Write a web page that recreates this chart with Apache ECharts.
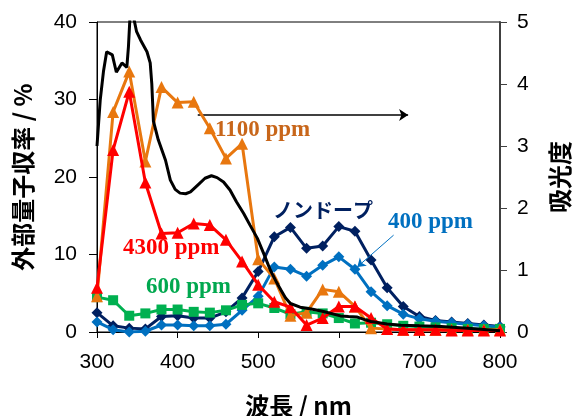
<!DOCTYPE html>
<html>
<head>
<meta charset="utf-8">
<script src="https://cdn.jsdelivr.net/npm/echarts@6/dist/echarts.min.js"></script>
<style>html,body{margin:0;padding:0;background:#fff;}#c{width:574px;height:416px;}</style>
</head>
<body>
<div id="c"></div>
<script>
const wavelengths = [300,320,340,360,380,400,420,440,460,480,500,520,540,560,580,600,620,640,660,680,700,720,740,760,780,800];
const undoped = [2.5,0.8,0.5,0.4,2.0,2.1,1.8,1.8,2.6,4.4,7.8,12.3,13.5,10.8,11.1,13.6,13.0,9.3,5.7,3.3,2.0,1.5,1.3,1.1,0.9,0.7];
const ppm400  = [1.3,0.3,0.0,0.1,0.9,0.9,0.8,0.8,1.0,2.8,4.6,8.4,8.1,7.2,8.6,9.7,8.1,5.2,3.4,2.3,1.7,1.4,1.2,1.0,0.8,0.6];
const ppm600  = [4.5,4.1,2.1,2.4,2.9,2.9,2.6,2.5,2.8,3.5,3.7,3.1,2.3,2.6,2.4,1.8,1.1,1.2,1.0,0.8,0.7,0.6,0.5,0.4,0.4,0.4];
const ppm1100 = [4.6,28.4,33.6,22.0,31.6,29.6,29.7,26.3,22.4,24.3,9.4,6.9,2.1,2.5,5.5,5.2,3.3,0.5,0.4,0.3,0.3,0.3,0.3,0.3,0.3,0.3];
const ppm4300 = [5.7,23.5,31.0,19.3,12.7,12.8,14.0,13.8,11.9,9.1,6.1,3.9,3.2,0.9,1.8,3.3,3.3,1.8,0.4,0.3,0.3,0.3,0.2,0.2,0.2,0.2];
const absWavelength = [300,304,308,312,319,324,331,337,339,341,345,349,354,362,366,368,370,376,385,391,397,403,410,416,425,434,442,449,457,465,473,482,490,499,507,515,522,528,534,540,552,566,581,602,612,623,632,640,660,677,700,727,760,800];
const absorbance = [3.0,3.74,4.2,4.52,4.47,4.19,4.34,4.27,4.6,5.1,5.1,4.85,4.71,4.52,4.34,4.0,3.4,3.1,2.77,2.45,2.3,2.24,2.23,2.26,2.37,2.48,2.52,2.49,2.42,2.29,2.1,1.91,1.72,1.51,1.26,1.0,0.82,0.68,0.55,0.46,0.40,0.37,0.33,0.26,0.25,0.24,0.2,0.17,0.13,0.11,0.1,0.09,0.06,0.02];
const xTicks = {min:300, max:800, interval:100};
const leftTicks = {min:0, max:40, interval:10};
const rightTicks = {min:0, max:5, interval:1};

const pair = (xs, ys) => xs.map((x, i) => [x, ys[i]]);
const chart = echarts.init(document.getElementById('c'), null, {renderer:'canvas'});
const tickFont = {fontFamily:'Liberation Sans, Arial, sans-serif', fontSize:21, color:'#000'};
const nameFont = {fontFamily:'Noto Sans CJK JP, Liberation Sans, sans-serif', fontSize:24, fontWeight:'bold', color:'#000'};
function mk(name, data, color, symbol, size, z) {
  return {name, type:'line', data:pair(wavelengths, data), yAxisIndex:0, symbol, symbolSize:size,
    lineStyle:{color, width:3}, itemStyle:{color}, z, animation:false};
}
const serif = 'bold 23px "Liberation Serif", "Times New Roman", serif';
chart.setOption({
  animation:false,
  grid:{left:97, right:74, top:22, bottom:84, show:true, borderColor:'#000', borderWidth:1,
        containLabel:false, outerBoundsMode:'none'},
  xAxis:{type:'value', min:xTicks.min, max:xTicks.max, interval:xTicks.interval,
    name:'波長 / nm', nameLocation:'middle', nameGap:62, nameTextStyle:nameFont,
    axisLine:{lineStyle:{color:'#000', width:1}}, axisTick:{show:true, length:6, lineStyle:{color:'#000'}},
    axisLabel:Object.assign({margin:20}, tickFont), splitLine:{show:false}},
  yAxis:[
    {type:'value', min:leftTicks.min, max:leftTicks.max, interval:leftTicks.interval, position:'left',
     name:'外部量子収率 / %', nameLocation:'middle', nameGap:62, nameRotate:90, nameTextStyle:nameFont,
     axisLine:{show:true, lineStyle:{color:'#000', width:1}}, axisTick:{show:true, length:8, lineStyle:{color:'#000'}},
     axisLabel:Object.assign({margin:20}, tickFont), splitLine:{show:false}},
    {type:'value', min:rightTicks.min, max:rightTicks.max, interval:rightTicks.interval, position:'right',
     name:'吸光度', nameLocation:'middle', nameGap:48, nameRotate:90, nameTextStyle:nameFont,
     axisLine:{show:true, lineStyle:{color:'#404040', width:2}}, axisTick:{show:true, length:7, lineStyle:{color:'#404040'}},
     axisLabel:Object.assign({margin:17}, tickFont), splitLine:{show:false}}
  ],
  series:[
    mk('ノンドープ', undoped, '#002060', 'diamond', 11, 2),
    Object.assign(mk('400 ppm', ppm400, '#0070C0', 'diamond', 11, 3), {
      markLine:{silent:true, symbol:['none','arrow'], symbolSize:8, label:{show:false},
        lineStyle:{color:'#0070C0', width:1, type:'solid'},
        data:[[{coord:[668,12.5]},{coord:[623,8.4]}]]}}),
    mk('600 ppm', ppm600, '#00B050', 'rect', 10, 4),
    Object.assign(mk('1100 ppm', ppm1100, '#E8770F', 'triangle', 12, 5), {
      markLine:{silent:true, symbol:['none','arrow'], symbolSize:9, label:{show:false},
        lineStyle:{color:'#000', width:1.5, type:'solid'},
        data:[[{coord:[425,28]},{coord:[686,28]}]]}}),
    mk('4300 ppm', ppm4300, '#FF0000', 'triangle', 12, 6),
    {name:'吸光度', type:'line', yAxisIndex:1, data:pair(absWavelength, absorbance), symbol:'none',
     lineStyle:{color:'#000', width:3}, z:7, clip:true, animation:false}
  ],
  graphic:[
    {type:'text', left:215, top:119, z:100, style:{text:'1100 ppm', font:serif, fill:'#C8661A'}},
    {type:'text', left:123, top:237, z:100, style:{text:'4300 ppm', font:serif, fill:'#FF0000'}},
    {type:'text', left:146, top:276, z:100, style:{text:'600 ppm', font:serif, fill:'#00A84F'}},
    {type:'text', left:388, top:211, z:100, style:{text:'400 ppm', font:serif, fill:'#0070C0'}},
    {type:'text', left:273, top:200, z:100, style:{text:'ノンドープ', font:'bold 20px "Noto Sans CJK JP", sans-serif', fill:'#002060'}}
  ]
});
</script>
</body>
</html>
